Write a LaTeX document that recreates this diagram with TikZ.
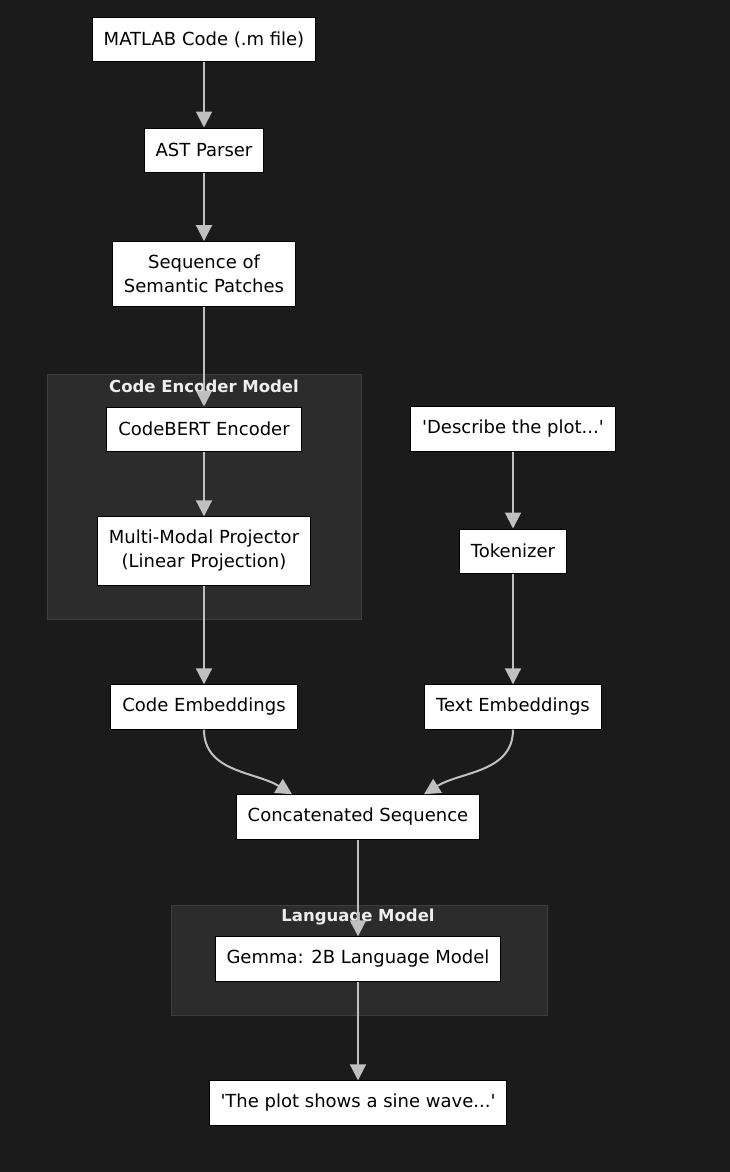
\documentclass[tikz,border=0pt]{standalone}
\usepackage{fontspec}
\setmainfont{DejaVu Sans}
\usetikzlibrary{arrows.meta}
\definecolor{bgdark}{HTML}{1B1B1B}
\definecolor{clusterfill}{HTML}{2C2C2C}
\definecolor{clusterline}{HTML}{3A4040}
\definecolor{arrowgray}{HTML}{C0C0C0}
\definecolor{labelwhite}{HTML}{EDEDED}
\begin{document}
\begin{tikzpicture}
  [x=1pt,y=-1pt,
   main node/.style={rectangle,draw=black,fill=white,line width=1pt,align=center,inner xsep=11.5pt,inner ysep=13.5pt,minimum height=44pt,font=\fontsize{18}{24}\selectfont},
   flow/.style={draw=arrowgray,line width=2pt,-{Triangle[length=16pt,width=16pt]}},
   cluster/.style={fill=clusterfill,draw=clusterline,line width=1pt},
   cluster label/.style={text=labelwhite,font=\bfseries\fontsize{16.5}{20}\selectfont}]
  \fill[bgdark] (0,0) rectangle (730,1172);
  \useasboundingbox (0,0) rectangle (730,1172);

  \draw[cluster] (47,374) rectangle (361,619);
  \draw[cluster] (171,905) rectangle (547,1015);
  \node[cluster label] (encoder) at (204,386) {Code Encoder Model};
  \node[cluster label] (lm) at (358,917) {Language Model};

\node[main node] (matlab) at (204,40) {MATLAB Code (.m file)};
\node[main node] (ast) at (204,150) {AST Parser};
\node[main node] (seq) at (204,274) {Sequence of\\Semantic Patches};
\node[main node] (codebert) at (204,429) {CodeBERT Encoder};
\node[main node] (proj) at (204,551) {Multi-Modal Projector\\(Linear Projection)};
\node[main node] (codeemb) at (204,707) {Code Embeddings};

\node[main node] (prompt) at (513,429) {\textquotesingle Describe the plot...\textquotesingle};
\node[main node] (tok) at (513,551) {Tokenizer};
\node[main node] (textemb) at (513,707) {Text Embeddings};

\node[main node] (concat) at (358,817) {Concatenated Sequence};
\node[main node] (gemma) at (358,959) {Gemma: 2B Language Model};
\node[main node] (answer) at (358,1103) {\textquotesingle The plot shows a sine wave...\textquotesingle};

  \draw[flow] (matlab) -- (ast);
  \draw[flow] (ast) -- (seq);
  \draw[flow] (seq) -- (codebert);
  \draw[flow] (codebert) -- (proj);
  \draw[flow] (proj) -- (codeemb);
  \draw[flow] (prompt) -- (tok);
  \draw[flow] (tok) -- (textemb);
  \draw[flow] (codeemb.south) to[out=-90,in=148] (concat.161);
  \draw[flow] (textemb.south) to[out=-90,in=32] (concat.19);
  \draw[flow] (concat) -- (gemma);
  \draw[flow] (gemma) -- (answer);

\end{tikzpicture}
\end{document}
